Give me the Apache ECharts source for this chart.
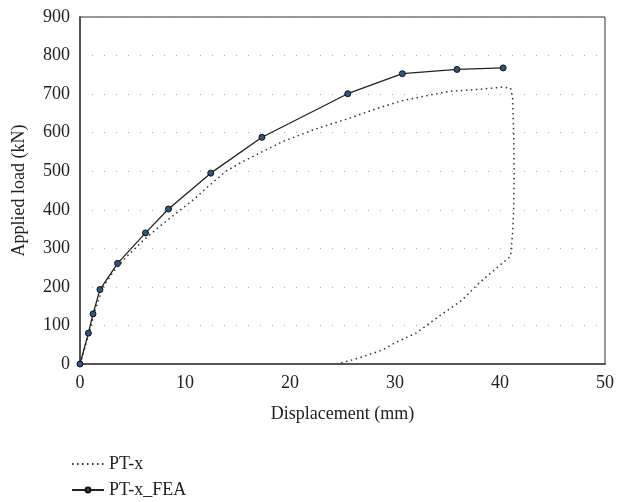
<!DOCTYPE html>
<html><head><meta charset="utf-8">
<script src="https://cdn.jsdelivr.net/npm/echarts@6/dist/echarts.min.js"></script>
<style>html,body{margin:0;padding:0;background:#fff}#c{width:617px;height:502px}</style>
</head><body><div id="c"></div>
<script>
var xTicks = [0, 10, 20, 30, 40, 50];
var yTicks = [0, 100, 200, 300, 400, 500, 600, 700, 800, 900];
var ptxDisp = [0,0.5,1.0,1.5,2.2,3.2,4.5,6.0,7.6,9.2,10.8,12.4,13.9,15.5,17.1,19.3,22.5,25.7,28,30.4,33,35.2,38.3,40.2,41.0,41.2,41.3,41.35,41.3,41.2,41.0,39.5,38,36.4,34,32,30,28.8,26.5,24.5];
var ptxLoad = [0,45,95,145,200,240,280,320,357,392,426,465,500,525,547,577,610,638,660,681,696,707,713,718,716,690,600,495,400,340,279,245,210,166,120,80,55,36,15,0];
var feaDisp = [0,0.8,1.24,1.9,3.58,6.24,8.43,12.45,17.33,25.5,30.7,35.9,40.3];
var feaLoad = [0,80,130,193,261,340,402,495,588,701,753,764,768];
var seriesNames = ['PT-x', 'PT-x_FEA'];

function pairs(a, b){ return a.map(function(v,i){ return [v, b[i]]; }); }
var font = 'Liberation Serif';
var chart = echarts.init(document.getElementById('c'));
chart.setOption({
  animation: false,
  textStyle: {fontFamily: font},
  grid: {left: 80, right: 10, top: 17, bottom: 138, show: true, borderColor: '#333', borderWidth: 1},
  xAxis: {
    type: 'value', min: xTicks[0], max: xTicks[xTicks.length-1], interval: 10,
    name: 'Displacement (mm)', nameLocation: 'middle', nameGap: 41,
    nameTextStyle: {fontFamily: font, fontSize: 18, color: '#222'},
    axisLine: {lineStyle: {color: '#555', width: 2}},
    axisTick: {show: false},
    axisLabel: {fontFamily: font, fontSize: 18, color: '#222', margin: 10},
    splitLine: {show: false}
  },
  yAxis: {
    type: 'value', min: yTicks[0], max: yTicks[yTicks.length-1], interval: 100,
    name: 'Applied load (kN)', nameLocation: 'middle', nameGap: 52, nameRotate: 90,
    nameTextStyle: {fontFamily: font, fontSize: 18, color: '#222'},
    axisLine: {lineStyle: {color: '#555', width: 2}},
    axisTick: {show: false},
    axisLabel: {fontFamily: font, fontSize: 18, color: '#222', margin: 10},
    splitLine: {show: true, lineStyle: {color: '#aaa', type: [1, 11], width: 1}}
  },
  legend: {
    orient: 'vertical', left: 66, top: 450, height: 52, itemGap: 8, itemWidth: 32, itemHeight: 6,
    textStyle: {fontFamily: font, fontSize: 18, color: '#222'},
    data: [{name: seriesNames[0], itemStyle: {opacity: 0}}, seriesNames[1]]
  },
  series: [
    {
      name: seriesNames[0], type: 'line', data: pairs(ptxDisp, ptxLoad),
      symbol: 'none', smooth: false,
      lineStyle: {color: '#333', width: 1.5, type: [1.5, 3.5]},
      itemStyle: {color: '#333'}
    },
    {
      name: seriesNames[1], type: 'line', data: pairs(feaDisp, feaLoad),
      symbol: 'circle', symbolSize: 6,
      lineStyle: {color: '#222', width: 1.3},
      itemStyle: {color: '#2f5588', borderColor: '#111', borderWidth: 1}
    }
  ]
});
</script></body></html>
